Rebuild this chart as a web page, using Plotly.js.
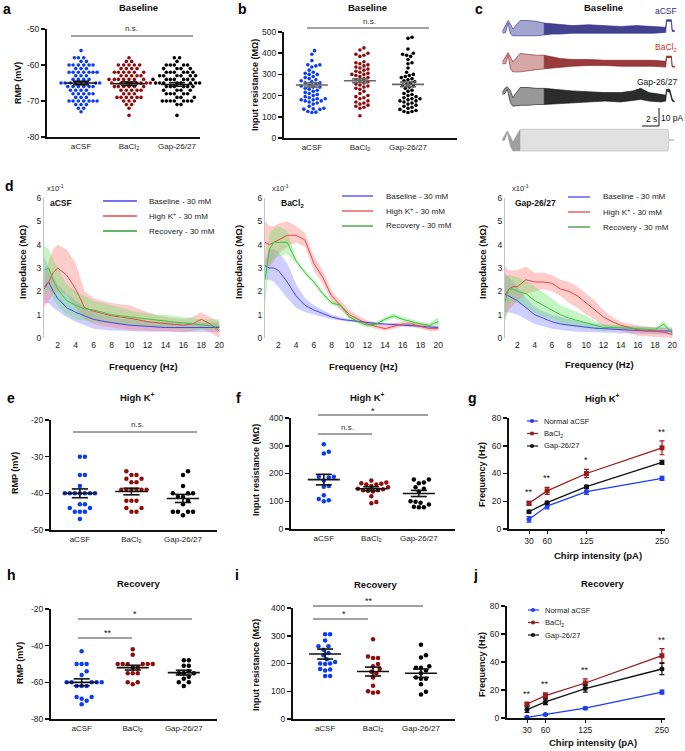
<!DOCTYPE html>
<html><head><meta charset="utf-8">
<script src="https://cdn.plot.ly/plotly-3.0.1.min.js"></script>
<style>html,body{margin:0;padding:0;background:#fff}#plot{width:685px;height:751px}</style>
</head><body><div id="plot"></div>
<script>
// ================= DATA =================
const groups = ['aCSF', 'BaCl<sub>2</sub>', 'Gap-26/27'];

// a: Baseline RMP (mV)
const a_aCSF = [-56,-58,-58,-58,-59,-59,-60,-60,-60,-60,-60,-60,-61,-61,-61,-62,-62,-62,-62,-62,-62,-62,-63,-63,-63,-64,-64,-64,-64,-65,-65,-65,-65,-65,-65,-65,-65,-66,-66,-66,-66,-66,-66,-67,-67,-67,-67,-68,-68,-68,-68,-68,-69,-69,-69,-70,-70,-70,-70,-70,-70,-70,-71,-71,-71,-72,-72,-73];
const a_BaCl2 = [-58,-59,-59,-60,-60,-60,-60,-60,-61,-61,-61,-61,-62,-62,-62,-62,-62,-62,-63,-63,-63,-63,-63,-64,-64,-64,-64,-64,-64,-64,-65,-65,-65,-65,-65,-65,-65,-65,-66,-66,-66,-66,-66,-66,-67,-67,-67,-67,-67,-68,-68,-68,-69,-69,-69,-69,-69,-69,-70,-70,-70,-71,-71,-72,-74];
const a_Gap = [-58,-58,-59,-60,-60,-60,-60,-60,-61,-61,-61,-61,-62,-62,-62,-62,-62,-62,-63,-63,-63,-63,-63,-63,-64,-64,-64,-64,-64,-64,-64,-65,-65,-65,-65,-65,-65,-65,-65,-66,-66,-66,-66,-66,-66,-67,-67,-67,-67,-68,-68,-68,-68,-68,-69,-69,-69,-70,-70,-70,-70,-70,-70,-70,-71,-71,-74];
const a_mean = [-65, -65.2, -65.4];
const a_sem = [0.5, 0.5, 0.5];

// b: Baseline input resistance (MOhm)
const b_aCSF = [412,395,365,345,345,340,335,320,310,305,300,300,290,285,280,275,270,265,260,260,255,250,245,240,240,235,230,225,220,215,210,205,200,195,190,185,185,180,180,175,175,170,165,160,150,140,138,136,135,125,122,120];
const b_BaCl2 = [425,415,400,395,390,385,360,355,350,345,340,335,330,325,320,315,310,305,300,300,295,290,285,280,275,270,265,260,255,250,245,240,235,230,220,210,200,195,190,185,175,170,165,160,155,150,145,140,105];
const b_Gap = [475,470,420,400,395,390,385,370,355,350,330,310,300,295,290,285,280,275,270,265,260,255,250,245,240,235,225,220,210,205,200,195,190,185,185,180,175,175,170,165,160,155,150,145,140,135,130,125,125,120];
const b_mean = [250, 270, 253];
const b_sem = [10, 9, 11];

// c: example traces (envelopes, pA, time in s)
const c_aCSF_t = [0.3,0.7,1.0,1.3,1.6,2.5,3.5,4.5,5.5,6.5,7.5,9,11,13,15,17,19,20.6,20.7,21.3,21.4,21.7];
const c_aCSF_up = [-1.5,2,5,3,0,5,5,4.5,3.5,3,2.5,2,2.5,2,1.5,2,1.5,1,5.5,5.5,-0.5,-1];
const c_aCSF_lo = [-2.5,-2,3.5,-3,-4,-4,-4,-4,-3.5,-3,-3,-2.5,-2.5,-2.5,-2.5,-2.5,-2.5,-2,4.5,4.5,-1.5,-1.5];
const c_BaCl2_t = [0.3,0.7,1.0,1.3,1.6,2.5,3.5,4.5,5.5,6.5,7.5,9,11,13,15,17,19,20.6,20.7,21.3,21.4,21.7];
const c_BaCl2_up = [0,3,5.5,3,0,5,4.5,4,4,3,2,1.5,1.5,1,1,1,1,0.5,3.5,3.5,-2.5,-2.5];
const c_BaCl2_lo = [-1,-1,4,-4,-5.8,-5.8,-5,-4.5,-4,-3.5,-3,-2.5,-2,-2,-2.5,-2.5,-2.5,-3,2.5,2.5,-3,-3];
const c_Gap_t = [0.3,0.6,0.9,1.3,1.6,2.5,3.5,4.5,5.5,6.5,7.5,9,11,13,15,16.5,17.5,18.5,20,20.6,20.7,21.1,21.4,21.7];
const c_Gap_up = [2,4.5,5.5,3,-1,5,5,4.5,4.5,4,3.5,3,2.5,2,2,3,4.5,2,1,0.5,4,4,-1.5,-3];
const c_Gap_lo = [1,1.5,4,-4,-6,-5.5,-5.5,-5,-5,-5,-4.5,-4,-3.5,-3,-3.5,-2.5,-2,-3,-3.5,-3,3,2,-3,-3.5];
const c_stim_t = [0.3,0.6,0.9,1.3,1.6,2.5,5,10,15,20,20.9,21.0,21.6];
const c_stim_up = [0.5,3,5.5,2,-1,6.3,6.3,6.3,6.3,6.3,6.3,0.3,0.3];
const c_stim_lo = [-0.5,0,4,-4,-6.5,-6.5,-6.5,-6.5,-6.5,-6.5,-6.5,-0.3,-0.3];

// d: impedance (x10^-1 MOhm) vs frequency (Hz)
const freq = [0.5,1,1.5,2,3,4,5,6,7,8,9,10,11,12,13,14,15,16,17,18,19,20];
// d1 aCSF
const d1_base = [2.2,2.4,2.0,1.7,1.3,1.1,0.95,0.8,0.72,0.65,0.6,0.55,0.52,0.5,0.48,0.45,0.45,0.45,0.45,0.45,0.45,0.45];
const d1_base_up = [3.5,3.0,2.6,2.3,1.9,1.6,1.35,1.1,1.0,0.9,0.85,0.8,0.75,0.72,0.7,0.68,0.67,0.66,0.65,0.65,0.65,0.65];
const d1_base_lo = [1.5,1.5,1.3,1.15,0.9,0.7,0.55,0.4,0.35,0.32,0.3,0.3,0.28,0.27,0.26,0.25,0.25,0.25,0.25,0.25,0.25,0.25];
const d1_high = [2.1,2.4,2.8,3.0,2.7,2.1,1.3,1.15,1.05,0.95,0.9,0.85,0.78,0.7,0.65,0.6,0.58,0.55,0.6,0.8,0.6,0.3];
const d1_high_up = [2.6,3.3,3.8,4.0,3.8,3.2,2.0,1.7,1.6,1.5,1.45,1.4,1.25,1.1,1.0,0.9,0.85,0.8,0.9,1.1,0.9,0.7];
const d1_high_lo = [1.3,1.6,1.9,2.0,1.9,1.3,0.8,0.6,0.5,0.45,0.4,0.35,0.32,0.3,0.3,0.3,0.28,0.25,0.3,0.4,0.25,0.0];
const d1_rec = [2.9,3.0,2.5,2.1,1.6,1.4,1.25,1.2,1.1,1.0,0.95,0.9,0.85,0.8,0.75,0.7,0.68,0.65,0.6,0.55,0.52,0.5];
const d1_rec_up = [4.0,3.8,3.4,3.0,2.3,2.0,1.8,1.6,1.5,1.4,1.3,1.2,1.1,1.05,1.0,1.0,0.95,0.9,0.85,0.8,0.8,0.8];
const d1_rec_lo = [1.8,2.1,1.7,1.4,1.0,0.8,0.75,0.7,0.65,0.6,0.58,0.55,0.5,0.48,0.46,0.45,0.42,0.4,0.38,0.36,0.35,0.35];
// d2 BaCl2
const d2_base = [3.1,3.0,3.0,2.9,2.4,1.8,1.4,1.2,1.05,0.9,0.8,0.75,0.7,0.65,0.62,0.6,0.58,0.55,0.52,0.5,0.48,0.45];
const d2_base_up = [3.3,3.8,3.8,3.7,3.2,2.3,1.7,1.4,1.2,1.0,0.9,0.8,0.75,0.7,0.67,0.64,0.62,0.6,0.57,0.55,0.52,0.5];
const d2_base_lo = [2.5,2.5,2.4,2.2,1.7,1.3,1.1,1.0,0.9,0.8,0.75,0.7,0.65,0.6,0.57,0.55,0.53,0.5,0.47,0.45,0.42,0.4];
const d2_high = [4.1,4.0,4.1,4.2,4.4,4.4,4.2,3.2,2.6,1.8,1.4,1.0,0.8,0.6,0.5,0.4,0.5,0.6,0.6,0.5,0.4,0.4];
const d2_high_up = [5.0,4.8,4.8,4.9,5.0,4.8,4.5,3.5,2.9,2.0,1.6,1.2,0.95,0.75,0.65,0.55,0.65,0.7,0.7,0.65,0.55,0.5];
const d2_high_lo = [3.0,3.0,3.3,3.6,3.9,4.1,3.9,2.9,2.3,1.6,1.2,0.85,0.65,0.5,0.4,0.3,0.4,0.5,0.5,0.4,0.3,0.3];
const d2_rec = [2.5,3.8,4.1,4.1,4.1,3.3,2.8,2.4,1.9,1.5,1.4,0.9,0.7,0.55,0.6,0.8,0.95,0.8,0.7,0.6,0.55,0.7];
const d2_rec_up = [3.0,4.5,4.7,4.8,4.6,3.4,2.9,2.5,2.0,1.6,1.5,1.0,0.8,0.65,0.7,0.9,1.05,0.9,0.8,0.7,0.65,0.9];
const d2_rec_lo = [1.3,3.2,3.4,3.5,3.6,3.2,2.7,2.3,1.8,1.4,1.3,0.8,0.6,0.45,0.5,0.7,0.85,0.7,0.6,0.5,0.45,0.5];
// d3 Gap-26/27
const d3_base = [1.9,1.8,1.7,1.6,1.3,1.0,0.85,0.7,0.6,0.55,0.5,0.45,0.42,0.4,0.38,0.35,0.33,0.3,0.3,0.3,0.3,0.3];
const d3_base_up = [2.8,2.6,2.4,2.2,1.7,1.35,1.15,1.0,0.9,0.8,0.72,0.65,0.6,0.57,0.53,0.5,0.48,0.47,0.46,0.45,0.45,0.45];
const d3_base_lo = [1.1,1.1,1.05,1.0,0.8,0.6,0.5,0.4,0.35,0.3,0.27,0.25,0.23,0.22,0.21,0.2,0.19,0.18,0.17,0.16,0.15,0.15];
const d3_high = [1.8,2.1,2.2,2.2,2.5,2.4,2.4,2.35,2.1,2.0,1.8,1.5,1.2,0.9,0.7,0.55,0.45,0.35,0.32,0.3,0.25,0.15];
const d3_high_up = [3.1,2.9,2.9,2.9,3.05,2.8,2.8,2.7,2.5,2.4,2.2,1.9,1.6,1.2,0.9,0.7,0.6,0.55,0.5,0.45,0.42,0.4];
const d3_high_lo = [0.8,1.2,1.4,1.6,1.9,2.0,2.1,2.0,1.8,1.5,1.3,1.0,0.8,0.5,0.4,0.3,0.2,0.1,0.08,0.05,0.02,0.0];
const d3_rec = [1.5,2.1,2.1,2.0,1.9,1.6,1.4,1.2,1.0,0.85,0.75,0.65,0.55,0.45,0.45,0.45,0.42,0.4,0.38,0.35,0.6,0.2];
const d3_rec_up = [2.6,2.7,2.65,2.6,2.45,2.2,1.95,1.7,1.4,1.25,1.1,0.95,0.75,0.6,0.57,0.55,0.52,0.5,0.48,0.45,0.75,0.3];
const d3_rec_lo = [0.5,1.5,1.5,1.5,1.3,1.1,0.9,0.8,0.6,0.5,0.45,0.4,0.35,0.3,0.32,0.35,0.32,0.3,0.28,0.25,0.4,0.1];
const dLegend = ['Baseline - 30 mM', 'High K<sup>+</sup> - 30 mM', 'Recovery - 30 mM'];

// e: High K+ RMP
const e_aCSF = [-30,-30,-35,-35,-38,-40,-40,-40,-40,-40,-40,-40,-43,-43,-44,-44,-45,-45,-45,-47];
const e_BaCl2 = [-34,-35,-35,-36,-36,-37,-37,-39,-39,-39,-39,-39,-39,-42,-42,-42,-44,-44,-45,-45];
const e_Gap = [-34,-35,-38,-40,-40,-40,-41,-41,-42,-43,-45,-45,-45,-45,-46];
const e_mean = [-40, -39.5, -41.4];
const e_sem = [1.2, 0.9, 1.1];

// f: High K+ input resistance
const f_aCSF = [305,278,272,188,188,186,175,155,152,122,108,104,100];
const f_BaCl2 = [175,168,165,163,160,160,155,150,145,143,140,140,138,135,118,97,93];
const f_Gap = [178,178,168,165,150,145,135,100,98,95,88,80,78,78];
const f_mean = [178, 145, 128];
const f_sem = [19, 7, 11];

// g: High K+ resonance frequency vs chirp intensity
const intensity = [30, 60, 125, 250];
const g_aCSF = [7, 16.5, 27, 36.5], g_aCSF_err = [2, 2, 2, 1.5];
const g_BaCl2 = [18.5, 27.5, 40, 58.5], g_BaCl2_err = [1.5, 2.5, 3, 5];
const g_Gap = [12.5, 19, 30.5, 48], g_Gap_err = [1, 1, 1, 1.5];
const g_sig = ['**', '**', '*', '**'];
const lineLegend = ['Normal aCSF', 'BaCl<sub>2</sub>', 'Gap-26/27'];

// h: Recovery RMP
const h_aCSF = [-43,-50,-50,-50,-54,-56,-60,-60,-60,-60,-60,-62,-62,-62,-68,-68,-69,-70,-72];
const h_BaCl2 = [-42,-45,-50,-50,-50,-50,-50,-50,-52,-52,-55,-55,-55,-60,-60,-61];
const h_Gap = [-48,-48,-51,-51,-54,-55,-55,-55,-57,-58,-60,-60,-62];
const h_mean = [-60, -52, -54.7];
const h_sem = [1.9, 1.3, 1.3];

// i: Recovery input resistance
const i_aCSF = [305,305,283,262,262,250,238,230,215,205,200,200,198,180,178,175,155,155];
const i_BaCl2 = [287,225,220,220,198,190,180,170,165,150,120,100,96,95];
const i_Gap = [268,230,222,190,185,185,175,165,150,145,145,125,98,88];
const i_mean = [234, 171, 165];
const i_sem = [18, 16, 15];

// j: Recovery resonance frequency vs chirp intensity
const j_aCSF = [0.5, 2.5, 7, 18.5], j_aCSF_err = [0.5, 0.7, 0.8, 1.5];
const j_BaCl2 = [10, 16, 25, 44.5], j_BaCl2_err = [1, 2, 3, 5];
const j_Gap = [6, 11.5, 21, 35], j_Gap_err = [2, 2, 2.5, 4];
const j_sig = ['**', '**', '**', '**'];

// ================= LAYOUT HELPERS =================
const W = 685, H = 751;
const PX = x => x / W, PY = y => 1 - y / H;
const FONT = 'Liberation Sans, Arial, Helvetica, sans-serif';
const dotColors = ['#0b3cf2', '#8e0c0c', '#000000'];
const lnColors = ['#1f3df5', '#9a1b1b', '#111111'];
const dBlue = '#4646ee', dRed = '#e54848', dGreen = '#3fc53f';
const dBlueF = 'rgba(110,110,255,0.33)', dRedF = 'rgba(255,110,110,0.35)', dGreenF = 'rgba(90,225,90,0.35)';

const layout = {
  width: W, height: H, margin: {l: 0, r: 0, t: 0, b: 0},
  paper_bgcolor: '#fff', plot_bgcolor: 'rgba(0,0,0,0)', showlegend: false,
  font: {family: FONT, color: '#111', size: 9}, annotations: [], shapes: []
};
const data = [];
let axN = 0;
function addAxes(x0, x1, y0, y1, xo, yo) {
  axN++;
  const k = axN === 1 ? '' : String(axN);
  layout['xaxis' + k] = Object.assign({domain: [PX(x0), PX(x1)], anchor: 'y' + k, showgrid: false, zeroline: false, fixedrange: true}, xo);
  layout['yaxis' + k] = Object.assign({domain: [PY(y1), PY(y0)], anchor: 'x' + k, showgrid: false, zeroline: false, fixedrange: true}, yo);
  return {xa: 'x' + k, ya: 'y' + k};
}
function txt(s, x, y, o) {
  layout.annotations.push(Object.assign({text: s, x: PX(x), y: PY(y), xref: 'paper', yref: 'paper', showarrow: false,
    xanchor: 'center', yanchor: 'middle', font: {size: 9, family: FONT, color: '#111'}}, o || {}));
}
const B = s => '<b>' + s + '</b>';
function seg(x0, y0, x1, y1, color, w) {
  layout.shapes.push({type: 'line', xref: 'paper', yref: 'paper', x0: PX(x0), y0: PY(y0), x1: PX(x1), y1: PY(y1),
    line: {color: color || '#333', width: w || 1}});
}
function dot(x, y, r, color) {
  layout.shapes.push({type: 'circle', xref: 'paper', yref: 'paper', x0: PX(x - r), x1: PX(x + r), y0: PY(y + r), y1: PY(y - r),
    fillcolor: color, line: {width: 0}});
}

// beeswarm offsets (pixels), deterministic collision placement
function swarm(vals, ppu, diam) {
  const idx = vals.map((v, i) => i).sort((a, b) => vals[a] - vals[b]);
  const placed = [], off = new Array(vals.length).fill(0);
  const step = diam / 3;
  idx.forEach(i => {
    const y = vals[i] * ppu;
    for (let k = 0; k < 500; k++) {
      const o = (k % 2 ? 1 : -1) * Math.ceil(k / 2) * step;
      let ok = true;
      for (const p of placed) {
        const dy = p.y - y, dx = p.o - o;
        if (dx * dx + dy * dy < diam * diam - 1e-6) { ok = false; break; }
      }
      if (ok) { off[i] = o; placed.push({y, o}); break; }
    }
  });
  return off;
}

const dotY = (range, vals) => ({range, tickvals: vals, ticktext: vals.map(String), ticks: 'outside', ticklen: 4, tickwidth: 1.5,
  tickcolor: '#111', showline: true, linewidth: 2, linecolor: '#111', tickfont: {size: 8.5, family: FONT, color: '#222'}});
const dotX = range => ({range, tickvals: [0, 1, 2], ticktext: groups, ticks: '', showline: true, linewidth: 2, linecolor: '#111',
  tickfont: {size: 8, family: FONT, color: '#222'}});

function dotPanel(ax, sets, means, sems, ppu, ppc, msize, diam, meanColor) {
  sets.forEach((vals, g) => {
    const off = swarm(vals, ppu, diam);
    data.push({type: 'scatter', mode: 'markers', x: vals.map((v, i) => g + off[i] / ppc), y: vals, xaxis: ax.xa, yaxis: ax.ya,
      marker: {size: msize, color: dotColors[g], line: {width: 0}}, cliponaxis: false, hoverinfo: 'skip'});
  });
  const mh = 16 / ppc, sh = 8 / ppc;
  means.forEach((m, g) => {
    const s = sems[g];
    data.push({type: 'scatter', mode: 'lines', xaxis: ax.xa, yaxis: ax.ya, hoverinfo: 'skip', cliponaxis: false,
      x: [g - mh, g + mh, null, g, g, null, g - sh, g + sh, null, g - sh, g + sh],
      y: [m, m, null, m - s, m + s, null, m + s, m + s, null, m - s, m - s],
      line: {color: meanColor, width: 1.6}});
  });
}

// ================= PANEL a =================
let ax = addAxes(47, 200, 29, 137, dotX([-0.71, 2.48]), dotY([-80, -50], [-80, -70, -60, -50]));
dotPanel(ax, [a_aCSF, a_BaCl2, a_Gap], a_mean, a_sem, 3.6, 48, 3.6, 4.0, '#111');
txt(B('a'), 7, 9, {font: {size: 14, family: FONT, color: '#000'}});
txt(B('Baseline'), 138, 8, {font: {size: 9.5, family: FONT}});
txt(B('RMP (mV)'), 18, 83, {textangle: -90, font: {size: 9, family: FONT}});
seg(71, 36, 193, 36, '#444', 1); txt('n.s.', 131, 28, {font: {size: 8, family: FONT, color: '#333'}});

// ================= PANEL b =================
ax = addAxes(284, 457, 32, 138, dotX([-0.58, 3.02]), dotY([0, 500], [0, 100, 200, 300, 400, 500]));
dotPanel(ax, [b_aCSF, b_BaCl2, b_Gap], b_mean, b_sem, 0.212, 48, 3.6, 4.0, '#666');
txt(B('b'), 242, 9, {font: {size: 14, family: FONT, color: '#000'}});
txt(B('Baseline'), 367, 8, {font: {size: 9.5, family: FONT}});
txt(B('Input resistance (MΩ)'), 255, 85, {textangle: -90, font: {size: 9, family: FONT}});
seg(307, 28, 429, 28, '#444', 1); txt('n.s.', 369, 21, {font: {size: 8, family: FONT, color: '#333'}});

// ================= PANEL c =================
// envelope drawn in two parts: the early resolved cycles (lighter) and the dense late part
function envPart(a, t, up, lo, i0, i1, fill, line, lw) {
  const tt = t.slice(i0, i1 + 1), uu = up.slice(i0, i1 + 1), ll = lo.slice(i0, i1 + 1);
  data.push({type: 'scatter', mode: 'lines', xaxis: a.xa, yaxis: a.ya, hoverinfo: 'skip',
    x: tt.concat(tt.slice().reverse()), y: uu.concat(ll.slice().reverse()), fill: 'toself', fillcolor: fill,
    line: {color: line, width: lw}});
}
function tracePanel(y0, y1, t, up, lo, tcut, line, fillEarly, fillLate, lw) {
  const a = addAxes(500, 677, y0, y1, {range: [0, 22], visible: false}, {range: [-10, 10], visible: false});
  let k = t.findIndex(v => v >= tcut);
  if (k < 0) k = t.length - 1;
  envPart(a, t, up, lo, 0, k, fillEarly, line, lw);
  envPart(a, t, up, lo, k, t.length - 1, fillLate, line, lw);
}
tracePanel(12, 46, c_aCSF_t, c_aCSF_up, c_aCSF_lo, 5.5, '#2a2a86', 'rgba(90,90,170,0.55)', 'rgba(40,40,130,0.88)', 0.6);
tracePanel(45, 79, c_BaCl2_t, c_BaCl2_up, c_BaCl2_lo, 5.5, '#861616', 'rgba(175,80,80,0.5)', 'rgba(135,25,25,0.85)', 0.6);
tracePanel(79, 113, c_Gap_t, c_Gap_up, c_Gap_lo, 5.5, '#111', 'rgba(70,70,70,0.55)', 'rgba(15,15,15,0.88)', 0.6);
tracePanel(123, 157, c_stim_t, c_stim_up, c_stim_lo, 2.5, '#9a9a9a', 'rgba(80,80,80,0.55)', 'rgba(200,200,200,0.55)', 0.4);
txt(B('c'), 479, 9, {font: {size: 14, family: FONT, color: '#000'}});
txt(B('Baseline'), 603, 8, {font: {size: 9.5, family: FONT}});
txt('aCSF', 666, 11, {font: {size: 8.5, family: FONT, color: '#2b2d8c'}});
txt('BaCl<sub>2</sub>', 666, 48, {font: {size: 8.5, family: FONT, color: '#d03030'}});
txt('Gap-26/27', 657, 82, {font: {size: 8.5, family: FONT, color: '#111'}});
seg(642, 126, 659, 126, '#111', 1); seg(659, 108, 659, 126, '#111', 1);
txt('2 s', 651, 119, {font: {size: 8.5, family: FONT}});
txt('10 pA', 672, 118, {font: {size: 8.5, family: FONT}});

// ================= PANEL d =================
function impPanel(x0, x1, xr, label, labelX, sets, legX0, legX1, legTx, legY0, xtX, ylX, freqY) {
  const a = addAxes(x0, x1, 198, 338,
    {range: xr, tickvals: [2, 4, 6, 8, 10, 12, 14, 16, 18, 20], ticks: '', showline: false, tickfont: {size: 8.5, family: FONT, color: '#222'}},
    {range: [0, 6], tickvals: [0, 1, 2, 3, 4, 5, 6], ticks: '', showline: true, linecolor: '#c4c4c4', linewidth: 1, tickfont: {size: 8.5, family: FONT, color: '#222'}});
  const cols = [[dBlue, dBlueF], [dRed, dRedF], [dGreen, dGreenF]];
  sets.forEach((s, k) => {
    data.push({type: 'scatter', mode: 'lines', xaxis: a.xa, yaxis: a.ya, hoverinfo: 'skip',
      x: freq.concat(freq.slice().reverse()), y: s[1].concat(s[2].slice().reverse()), fill: 'toself',
      fillcolor: cols[k][1], line: {width: 0}});
  });
  sets.forEach((s, k) => {
    data.push({type: 'scatter', mode: 'lines', xaxis: a.xa, yaxis: a.ya, hoverinfo: 'skip', x: freq, y: s[0],
      line: {color: cols[k][0], width: 1}});
  });
  const legCols = [dBlue, dRed, '#3a9a3a'];
  dLegend.forEach((s, k) => {
    const yy = legY0 + k * 15;
    seg(legX0, yy, legX1, yy, legCols[k], 1.3);
    txt(s, legTx, yy, {xanchor: 'left', font: {size: 8, family: FONT, color: '#222'}});
  });
  txt(B(label), labelX, 203, {font: {size: 8.5, family: FONT}});
  txt('x10<sup>-1</sup>', xtX, 188, {font: {size: 7.5, family: FONT, color: '#222'}});
  txt(B('Impedance (MΩ)'), ylX, 262, {textangle: -90, font: {size: 9.5, family: FONT}});
  txt(B('Frequency (Hz)'), (x0 + x1) / 2 + 10, freqY, {font: {size: 9.5, family: FONT}});
}
impPanel(44, 222, [0.48, 20.3], 'aCSF', 61,
  [[d1_base, d1_base_up, d1_base_lo], [d1_high, d1_high_up, d1_high_lo], [d1_rec, d1_rec_up, d1_rec_lo]],
  103, 137, 147, 201, 55, 22, 366);
impPanel(265, 441, [0.5, 20.3], 'BaCl<sub>2</sub>', 292,
  [[d2_base, d2_base_up, d2_base_lo], [d2_high, d2_high_up, d2_high_lo], [d2_rec, d2_rec_up, d2_rec_lo]],
  342, 373, 384, 196, 280, 238, 366);
impPanel(505, 674, [0.56, 20.2], 'Gap-26/27', 535,
  [[d3_base, d3_base_up, d3_base_lo], [d3_high, d3_high_up, d3_high_lo], [d3_rec, d3_rec_up, d3_rec_lo]],
  568, 590, 601, 197, 520, 482, 364);
txt(B('d'), 9, 186, {font: {size: 14, family: FONT, color: '#000'}});

// ================= PANEL e =================
ax = addAxes(51, 217, 420, 530, dotX([-0.56, 2.66]), dotY([-50, -20], [-50, -40, -30, -20]));
dotPanel(ax, [e_aCSF, e_BaCl2, e_Gap], e_mean, e_sem, 3.667, 51, 4.5, 5.0, '#111');
txt(B('e'), 11, 398, {font: {size: 14, family: FONT, color: '#000'}});
txt(B('High K<sup>+</sup>'), 137, 397, {font: {size: 9.5, family: FONT}});
txt(B('RMP (mV)'), 15, 473, {textangle: -90, font: {size: 9, family: FONT}});
seg(73, 432, 197, 432, '#444', 1); txt('n.s.', 137, 424, {font: {size: 8, family: FONT, color: '#333'}});

// ================= PANEL f =================
ax = addAxes(291, 455, 418, 529, dotX([-0.69, 2.76]), dotY([0, 400], [0, 100, 200, 300, 400]));
dotPanel(ax, [f_aCSF, f_BaCl2, f_Gap], f_mean, f_sem, 0.2775, 47.5, 4.5, 5.0, '#111');
txt(B('f'), 238, 398, {font: {size: 14, family: FONT, color: '#000'}});
txt(B('High K<sup>+</sup>'), 367, 397, {font: {size: 9.5, family: FONT}});
txt(B('Input resistance (MΩ)'), 256, 470, {textangle: -90, font: {size: 9, family: FONT}});
seg(318, 434, 372, 434, '#444', 1); txt('n.s.', 347, 427, {font: {size: 8, family: FONT, color: '#333'}});
seg(318, 415, 428, 415, '#444', 1); txt('*', 373, 411, {font: {size: 9, family: FONT}});

// ================= PANEL g / j =================
function freqPanel(x0, x1, y0, y1, xr, sets, sig, legX, legY0, legStep) {
  const a = addAxes(x0, x1, y0, y1,
    {range: xr, tickvals: intensity, ticktext: intensity.map(String), ticks: 'outside', ticklen: 3, tickwidth: 1, tickcolor: '#111',
      showline: true, linewidth: 2, linecolor: '#111', tickfont: {size: 8.5, family: FONT, color: '#222'}},
    {range: [0, 80], tickvals: [0, 20, 40, 60, 80], ticktext: ['0', '20', '40', '60', '80'], ticks: 'outside', ticklen: 4, tickwidth: 1.5,
      tickcolor: '#111', showline: true, linewidth: 2, linecolor: '#111', tickfont: {size: 8.5, family: FONT, color: '#222'}});
  sets.forEach((s, k) => {
    data.push({type: 'scatter', mode: 'lines+markers', xaxis: a.xa, yaxis: a.ya, hoverinfo: 'skip', x: intensity, y: s[0],
      line: {color: lnColors[k], width: 1.3}, marker: {size: 5, color: lnColors[k], symbol: k === 1 ? 'square' : 'circle'},
      error_y: {type: 'data', array: s[1], visible: true, color: lnColors[k], thickness: 1.2, width: 2.5}, cliponaxis: false});
  });
  const ba = sets[1];
  sig.forEach((s, i) => {
    layout.annotations.push({text: s, x: intensity[i], y: ba[0][i] + ba[1][i] + 1.5, xref: a.xa, yref: a.ya, showarrow: false,
      xanchor: 'center', yanchor: 'bottom', font: {size: 9, family: FONT, color: '#111'}});
  });
  lineLegend.forEach((s, k) => {
    const yy = legY0 + k * legStep;
    seg(legX - 5, yy, legX + 6, yy, lnColors[k], 1.2);
    dot(legX, yy, 2.1, lnColors[k]);
    txt(s, legX + 10, yy, {xanchor: 'left', font: {size: 7.5, family: FONT, color: '#222'}});
  });
}
freqPanel(509, 665, 418, 529, [-3.1, 255],
  [[g_aCSF, g_aCSF_err], [g_BaCl2, g_BaCl2_err], [g_Gap, g_Gap_err]], g_sig, 532, 421, 12.5);
txt(B('g'), 472, 398, {font: {size: 14, family: FONT, color: '#000'}});
txt(B('High K<sup>+</sup>'), 602, 398, {font: {size: 9.5, family: FONT}});
txt(B('Frequency (Hz)'), 482, 475, {textangle: -90, font: {size: 9, family: FONT}});
txt(B('Chirp intensity (pA)'), 598, 555, {font: {size: 9.5, family: FONT}});

// ================= PANEL h =================
ax = addAxes(51, 217, 609, 719, dotX([-0.6, 2.65]), dotY([-80, -20], [-80, -60, -40, -20]));
dotPanel(ax, [h_aCSF, h_BaCl2, h_Gap], h_mean, h_sem, 1.833, 51, 4.5, 5.0, '#111');
txt(B('h'), 11, 575, {font: {size: 14, family: FONT, color: '#000'}});
txt(B('Recovery'), 138, 583, {font: {size: 9.5, family: FONT}});
txt(B('RMP (mV)'), 20, 663, {textangle: -90, font: {size: 9, family: FONT}});
seg(78, 638, 132, 638, '#444', 1); txt('**', 108, 633, {font: {size: 9, family: FONT}});
seg(78, 619, 192, 619, '#444', 1); txt('*', 135, 614, {font: {size: 9, family: FONT}});

// ================= PANEL i =================
ax = addAxes(293, 455, 608, 719, dotX([-0.67, 2.71]), dotY([0, 400], [0, 100, 200, 300, 400]));
dotPanel(ax, [i_aCSF, i_BaCl2, i_Gap], i_mean, i_sem, 0.2775, 48, 4.5, 5.0, '#111');
txt(B('i'), 237, 575, {font: {size: 14, family: FONT, color: '#000'}});
txt(B('Recovery'), 375, 584, {font: {size: 9.5, family: FONT}});
txt(B('Input resistance (MΩ)'), 256, 665, {textangle: -90, font: {size: 9, family: FONT}});
seg(313, 619, 368, 619, '#444', 1); txt('*', 344, 614, {font: {size: 9, family: FONT}});
seg(313, 606, 423, 606, '#444', 1); txt('**', 369, 601, {font: {size: 9, family: FONT}});

// ================= PANEL j =================
freqPanel(507, 665, 606, 718, [-2.6, 255],
  [[j_aCSF, j_aCSF_err], [j_BaCl2, j_BaCl2_err], [j_Gap, j_Gap_err]], j_sig, 533, 610, 12.5);
txt(B('j'), 475, 575, {font: {size: 14, family: FONT, color: '#000'}});
txt(B('Recovery'), 602, 583, {font: {size: 9.5, family: FONT}});
txt(B('Frequency (Hz)'), 482, 665, {textangle: -90, font: {size: 9, family: FONT}});
txt(B('Chirp intensity (pA)'), 593, 742, {font: {size: 9.5, family: FONT}});

Plotly.newPlot('plot', data, layout, {staticPlot: true, displayModeBar: false});
</script>
</body></html>
